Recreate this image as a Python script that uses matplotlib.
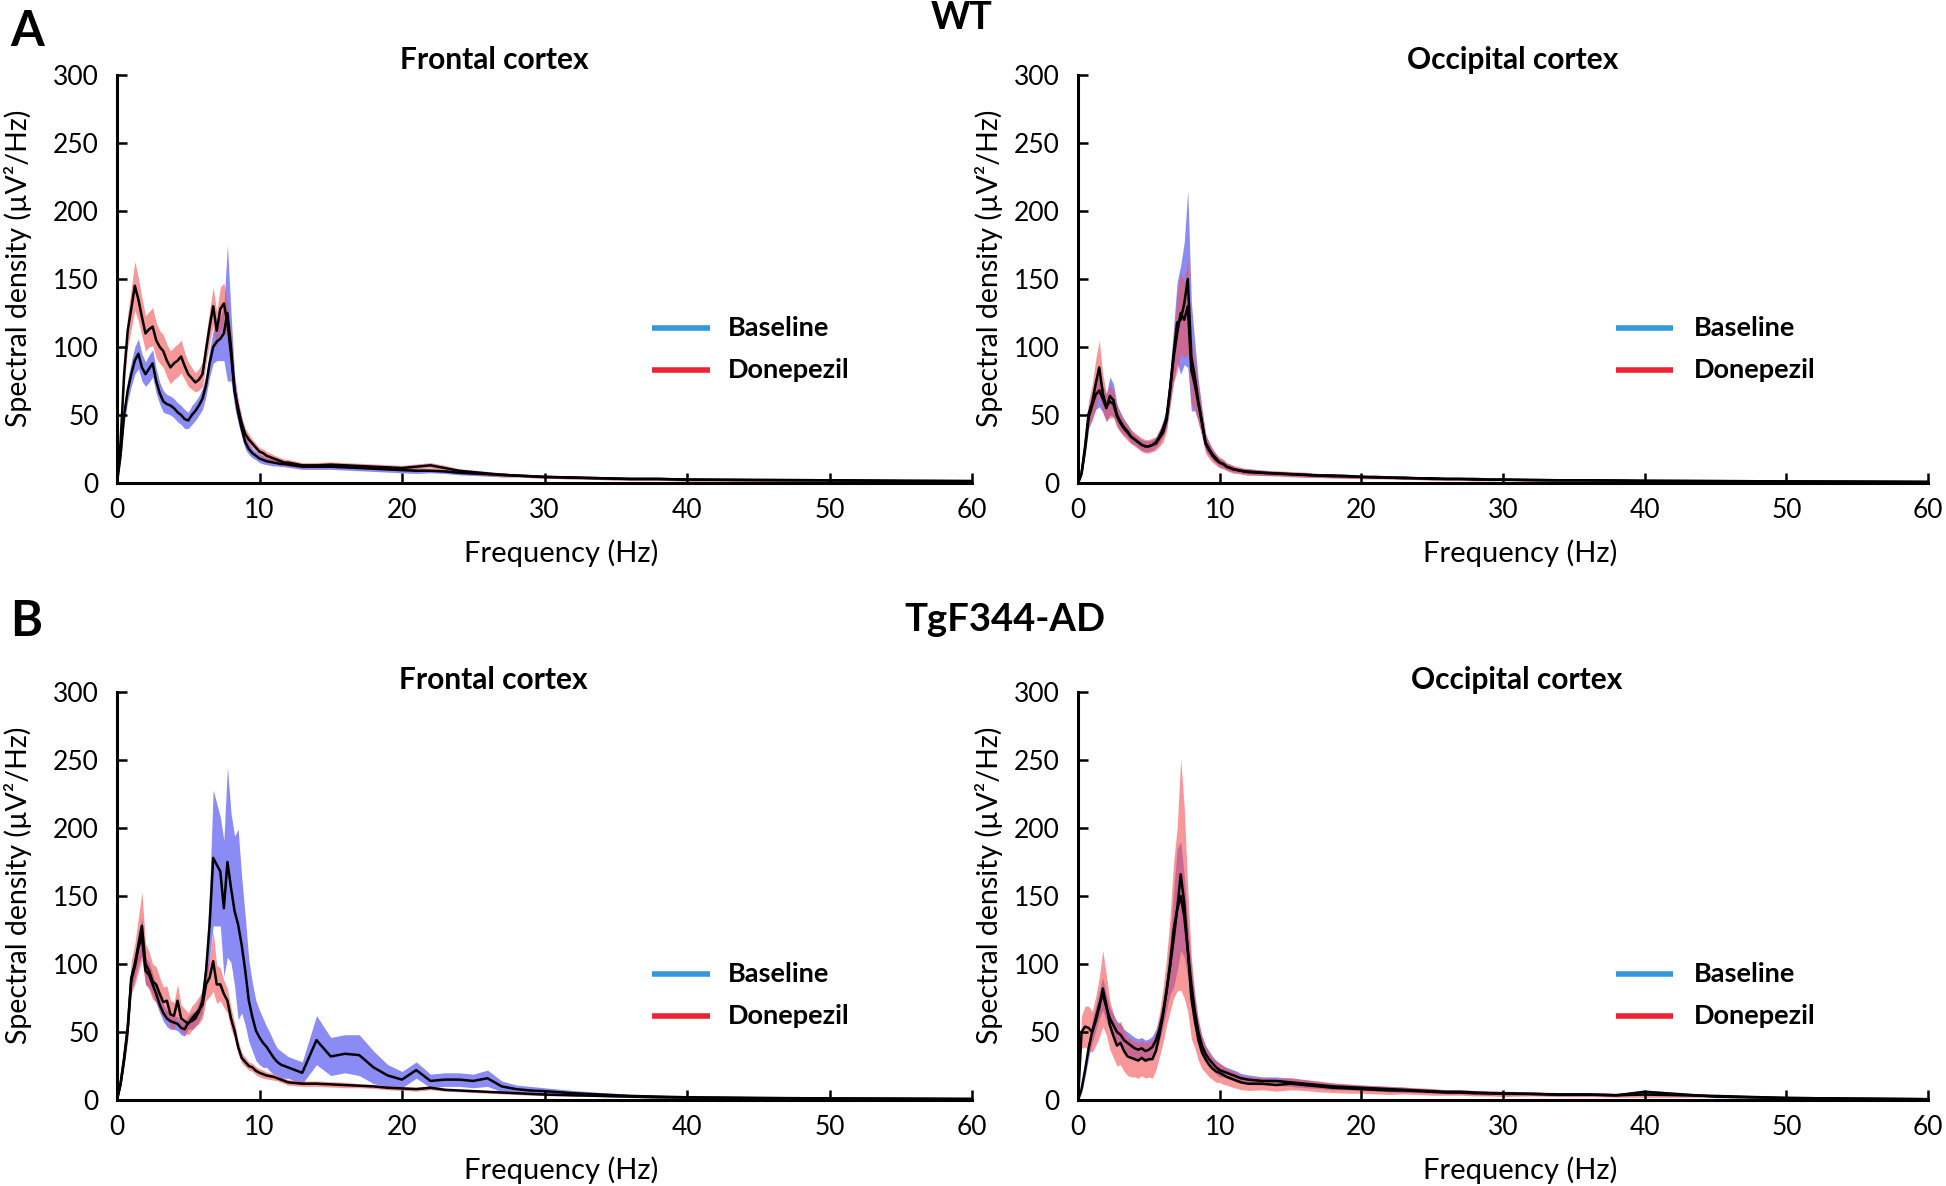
import numpy as np
import matplotlib
matplotlib.use("Agg")
import matplotlib.pyplot as plt

plt.rcParams['font.family'] = ['Lato', 'DejaVu Sans']

# frequency grid (Hz): 0-12 step 0.25, then 13..30, 32..40 step 2, 45..60 step 5
freq = [0, .25, .5, .75, 1, 1.25, 1.5, 1.75,
        2, 2.25, 2.5, 2.75, 3, 3.25, 3.5, 3.75,
        4, 4.25, 4.5, 4.75, 5, 5.25, 5.5, 5.75,
        6, 6.25, 6.5, 6.75, 7, 7.25, 7.5, 7.75,
        8, 8.25, 8.5, 8.75, 9, 9.25, 9.5, 9.75,
        10, 10.25, 10.5, 10.75, 11, 11.25, 11.5, 11.75,
        12, 13, 14, 15, 16, 17, 18, 19,
        20, 21, 22, 23, 24, 25, 26, 27,
        28, 29, 30, 32, 34, 36, 38, 40,
        45, 50, 55, 60]

# ---- WT, frontal cortex ----
wt_fr_base = [0, 20, 50, 68, 80, 90, 95, 85,
              80, 84, 88, 75, 66, 60, 58, 57,
              55, 52, 50, 47, 46, 50, 53, 57,
              62, 72, 88, 100, 104, 106, 110, 125,
              100, 68, 52, 40, 30, 25, 22, 20,
              18, 17, 16, 15.5, 15, 14.5, 14, 14,
              13.5, 12, 12, 12, 11.5, 11, 10.5, 10,
              9.5, 9, 9, 8.5, 7.5, 7, 6.5, 6,
              5.5, 5, 4.5, 4, 3.5, 3, 3, 2.5,
              2.2, 2, 1.6, 1.4]
wt_fr_base_err = [0, 3, 6, 8, 9, 10, 11, 10,
                  9, 10, 10, 9, 8, 8, 7, 7,
                  7, 7, 7, 7, 6, 7, 7, 7,
                  8, 8, 10, 12, 14, 16, 20, 50,
                  25, 12, 8, 6, 5, 4, 3.5, 3,
                  3, 3, 2.5, 2.5, 2.5, 2, 2, 2,
                  2, 2, 2, 2, 2, 2, 2, 2,
                  2, 2, 1.5, 1.5, 1.5, 1.5, 1.5, 1.5,
                  1, 1, 1, 1, 1, 1, 1, 1,
                  0.8, 0.8, 0.6, 0.6]
wt_fr_done = [0, 30, 80, 112, 128, 145, 135, 122,
              110, 113, 115, 105, 100, 97, 90, 85,
              88, 90, 93, 86, 80, 77, 74, 76,
              80, 98, 115, 130, 112, 128, 132, 118,
              95, 68, 55, 44, 36, 32, 29, 26,
              23, 22, 20, 19, 18, 17, 16, 15,
              15, 13, 13, 13.5, 13, 12.5, 12, 11.5,
              11, 12, 13, 11, 9, 8, 7, 6,
              5.5, 5, 4.5, 4, 3.5, 3, 3, 2.5,
              2.2, 2, 1.6, 1.4]
wt_fr_done_err = [0, 4, 8, 12, 15, 18, 16, 14,
                  13, 13, 14, 13, 12, 12, 12, 12,
                  12, 12, 12, 10, 9, 8, 7, 8,
                  9, 10, 12, 14, 14, 16, 15, 14,
                  12, 8, 6, 5, 4, 4, 3, 3,
                  3, 3, 3, 3, 2.5, 2.5, 2.5, 2.5,
                  2.5, 2, 2, 2, 2, 2, 2, 2,
                  2, 2, 2, 2, 1.5, 1.5, 1.5, 1.5,
                  1, 1, 1, 1, 1, 1, 1, 1,
                  0.8, 0.8, 0.6, 0.6]

# ---- WT, occipital cortex ----
wt_oc_base = [0, 7, 25, 48, 57, 65, 68, 62,
              55, 64, 61, 50, 45, 41, 38, 34,
              32, 30, 28, 27, 27, 28, 30, 34,
              40, 48, 70, 95, 118, 120, 132, 150,
              93, 78, 60, 45, 30, 25, 21, 18,
              15, 14, 12, 11, 10, 9.5, 9, 8.5,
              8.5, 7.5, 7, 6.5, 6, 5.5, 5.5, 5,
              4.5, 4.5, 4, 4, 3.5, 3.5, 3, 3,
              3, 2.5, 2.5, 2.2, 2, 2, 1.8, 1.6,
              1.4, 1.2, 1, 0.8]
wt_oc_base_err = [0, 2, 5, 8, 10, 11, 12, 10,
                  10, 14, 12, 8, 7, 6, 5, 5,
                  4, 4, 4, 4, 4, 4, 4, 5,
                  6, 8, 12, 20, 30, 40, 45, 65,
                  40, 25, 15, 10, 6, 5, 4, 3.5,
                  3, 3, 2.5, 2.5, 2, 2, 2, 2,
                  2, 2, 1.5, 1.5, 1.5, 1.5, 1.5, 1.5,
                  1, 1, 1, 1, 1, 1, 1, 1,
                  1, 0.8, 0.8, 0.8, 0.6, 0.6, 0.6, 0.6,
                  0.5, 0.5, 0.4, 0.4]
wt_oc_done = [0, 7, 27, 51, 59, 73, 85, 66,
              56, 60, 58, 49, 44, 40, 37, 34,
              32, 30, 28, 27, 27, 28, 29, 33,
              37, 46, 68, 92, 110, 125, 120, 130,
              83, 72, 58, 44, 29, 24, 20, 17,
              15, 14, 12, 11, 10, 9.5, 9, 8.5,
              8, 7.5, 7, 6.5, 6, 5.5, 5, 5,
              4.5, 4, 4, 3.5, 3.5, 3, 3, 3,
              2.5, 2.5, 2.5, 2.2, 2, 2, 1.8, 1.6,
              1.4, 1.2, 1, 0.8]
wt_oc_done_err = [0, 2, 6, 10, 13, 18, 20, 14,
                  10, 12, 10, 8, 7, 6, 6, 5,
                  5, 5, 5, 5, 5, 5, 5, 6,
                  7, 8, 12, 18, 28, 30, 28, 35,
                  25, 18, 14, 10, 7, 6, 5, 4,
                  4, 3.5, 3, 3, 3, 2.5, 2.5, 2.5,
                  2.5, 2, 2, 2, 2, 1.5, 1.5, 1.5,
                  1.5, 1, 1, 1, 1, 1, 1, 1,
                  1, 0.8, 0.8, 0.8, 0.6, 0.6, 0.6, 0.6,
                  0.5, 0.5, 0.4, 0.4]

# ---- TgF344-AD, frontal cortex ----
tg_fr_base = [0, 12, 30, 52, 88, 98, 112, 120,
              95, 92, 85, 78, 70, 64, 60, 58,
              57, 56, 53, 52, 57, 58, 60, 65,
              73, 95, 129, 178, 173, 168, 141, 175,
              156, 139, 129, 114, 95, 73, 61, 51,
              46, 42, 39, 35, 31, 28, 26, 25,
              24, 20, 44, 32, 34, 33, 24, 18,
              15, 22, 14, 15, 15, 14, 16, 10,
              8, 7, 6.5, 5, 4, 3, 2.5, 2,
              1.5, 1.2, 1, 0.8]
tg_fr_base_err = [0, 3, 5, 7, 8, 9, 12, 14,
                  10, 9, 8, 7, 6, 6, 6, 6,
                  5, 5, 5, 5, 5, 6, 6, 7,
                  9, 12, 25, 50, 45, 40, 50, 70,
                  55, 55, 70, 50, 40, 30, 25, 22,
                  20, 18, 15, 14, 12, 10, 10, 9,
                  8, 8, 18, 14, 14, 15, 12, 8,
                  6, 6, 5, 5, 5, 5, 6, 4,
                  3, 3, 2.5, 2, 1.5, 1.2, 1, 1,
                  0.8, 0.6, 0.5, 0.4]
tg_fr_done = [0, 12, 31, 53, 90, 100, 114, 128,
              100, 95, 87, 85, 78, 72, 73, 63,
              62, 73, 60, 58, 56, 60, 63, 66,
              70, 85, 90, 102, 85, 85, 78, 73,
              60, 51, 39, 31, 28, 25, 24, 21.5,
              20, 19, 18, 17.5, 17, 16, 15, 14,
              13, 12, 12, 11.5, 11, 10.5, 10, 9,
              8.5, 8, 9, 7.5, 7, 6.5, 6, 5.5,
              5, 4.5, 4, 3.5, 3, 2.5, 2, 1.8,
              1.4, 1.1, 0.9, 0.7]
tg_fr_done_err = [0, 3, 6, 9, 12, 15, 20, 25,
                  15, 14, 13, 13, 12, 11, 11, 10,
                  10, 12, 10, 9, 8, 9, 9, 10,
                  10, 12, 14, 22, 14, 12, 10, 9,
                  8, 6, 5, 4, 3.5, 3, 3, 3,
                  3, 3, 2.5, 2.5, 2.5, 2, 2, 2,
                  2, 2, 2, 2, 2, 1.5, 1.5, 1.5,
                  1.5, 1.5, 1.5, 1, 1, 1, 1, 1,
                  1, 1, 0.8, 0.8, 0.6, 0.6, 0.5, 0.5,
                  0.4, 0.4, 0.3, 0.3]

# ---- TgF344-AD, occipital cortex ----
tg_oc_base = [0, 8, 22, 38, 50, 60, 70, 78,
              68, 60, 55, 50, 48, 44, 42, 40,
              38, 37, 38, 36, 37, 39, 44, 52,
              64, 80, 98, 118, 140, 150, 135, 110,
              85, 65, 50, 40, 34, 30, 27, 24,
              22, 21, 20, 19, 18, 17, 16, 15.5,
              15, 14, 14, 13, 12, 11, 10, 9.5,
              9, 8.5, 8, 7.5, 7, 6.5, 6, 6,
              5.5, 5, 5, 4.5, 4, 4, 3.5, 6,
              2.5, 1.5, 1, 0.6]
tg_oc_base_err = [0, 3, 5, 7, 8, 9, 10, 12,
                  10, 8, 8, 8, 8, 8, 8, 8,
                  8, 8, 8, 8, 8, 8, 8, 9,
                  10, 14, 20, 35, 45, 40, 30, 20,
                  14, 10, 8, 7, 6, 6, 5, 5,
                  5, 4, 4, 4, 4, 4, 3.5, 3.5,
                  3.5, 3, 3, 3, 3, 2.5, 2.5, 2,
                  2, 2, 2, 2, 1.5, 1.5, 1.5, 1.5,
                  1.5, 1.5, 1, 1, 1, 1, 1, 1.5,
                  0.8, 0.6, 0.4, 0.3]
tg_oc_done = [0, 50, 54, 53, 50, 58, 68, 82,
              70, 55, 47, 40, 42, 36, 32, 31,
              30, 29, 31, 29, 30, 30, 36, 48,
              62, 80, 100, 125, 140, 166, 145, 110,
              75, 58, 44, 35, 30, 26, 23, 21,
              20, 18.5, 17, 16, 15, 14, 13, 12.5,
              12, 12, 11, 12, 11, 10, 9, 8.5,
              8, 7.5, 7, 7, 6.5, 6, 5.5, 5.5,
              5, 5, 4.5, 4.5, 4, 4, 3.5, 4,
              3, 1.5, 1, 0.6]
tg_oc_done_err = [0, 12, 15, 16, 15, 18, 22, 28,
                  22, 18, 16, 15, 16, 15, 14, 14,
                  13, 13, 13, 13, 13, 14, 14, 16,
                  20, 25, 35, 50, 60, 85, 70, 45,
                  30, 20, 15, 12, 10, 9, 8, 8,
                  7, 7, 6, 6, 6, 5.5, 5.5, 5,
                  5, 4.5, 4.5, 4.5, 4, 4, 3.5, 3.5,
                  3, 3, 3, 2.5, 2.5, 2.5, 2, 2,
                  2, 2, 2, 1.5, 1.5, 1.5, 1.5, 2,
                  1, 0.8, 0.5, 0.4]

W, H = 1946, 1186
fig = plt.figure(figsize=(W / 100, H / 100), dpi=100)

def px_axes(x0, x1, ytop, ybot):
    return fig.add_axes([x0 / W, 1 - ybot / H, (x1 - x0) / W, (ybot - ytop) / H])

panels = [
    (px_axes(117, 972, 75, 483), wt_fr_base, wt_fr_base_err, wt_fr_done, wt_fr_done_err,
     "Frontal cortex", 494, 60, True),
    (px_axes(1078, 1928, 75, 483), wt_oc_base, wt_oc_base_err, wt_oc_done, wt_oc_done_err,
     "Occipital cortex", 1513, 60, False),
    (px_axes(117, 972, 692, 1100), tg_fr_base, tg_fr_base_err, tg_fr_done, tg_fr_done_err,
     "Frontal cortex", 493, 680, True),
    (px_axes(1078, 1928, 692, 1100), tg_oc_base, tg_oc_base_err, tg_oc_done, tg_oc_done_err,
     "Occipital cortex", 1517, 680, False),
]

f = np.array(freq)
for ax, mb, eb, md, ed, title, tx, ty, is_left in panels:
    mb, eb, md, ed = map(np.array, (mb, eb, md, ed))
    ax.fill_between(f, np.clip(mb - eb, 0, None), mb + eb, color='#6464f2', alpha=0.75, lw=0)
    ax.plot(f, mb, color='black', lw=1.8)
    ax.fill_between(f, np.clip(md - ed, 0, None), md + ed, color='#f25252', alpha=0.6, lw=0)
    ax.plot(f, md, color='black', lw=1.8)

    ax.set_xlim(0, 60)
    ax.set_ylim(0, 300)
    ax.set_xticks(range(0, 61, 10))
    ax.set_yticks(range(0, 301, 50))
    for s in ['top', 'right']:
        ax.spines[s].set_visible(False)
    for s in ['left', 'bottom']:
        ax.spines[s].set_linewidth(2.2)
    ax.tick_params(direction='in', length=7, width=1.8, labelsize=19)
    ax.tick_params(axis='y', pad=13)
    ax.tick_params(axis='x', pad=11)
    ax.set_xlabel("Frequency (Hz)", fontsize=21)
    ax.set_ylabel("Spectral density (µV²/Hz)", fontsize=20.5)
    ax.xaxis.set_label_coords(0.52, -0.137)
    ax.yaxis.set_label_coords(-0.099 if is_left else -0.088, 0.525)
    fig.text(tx / W, 1 - ty / H, title, fontsize=21.5, fontweight='bold',
             ha='center', va='center')

    # legend
    legy = [0.380, 0.277] if ty < 300 else [0.309, 0.206]
    x0, x1, xt = (0.626, 0.694, 0.715) if is_left else (0.633, 0.700, 0.724)
    for yy, col, lab in zip(legy, ['#3399dd', '#ee2233'], ['Baseline', 'Donepezil']):
        ax.plot([x0, x1], [yy, yy], color=col, lw=4, transform=ax.transAxes,
                solid_capstyle='butt')
        ax.text(xt, yy, lab, transform=ax.transAxes, fontsize=19.5, fontweight='bold',
                va='center', ha='left')

fig.text(10 / W, 1 - 32 / H, "A", fontsize=35, fontweight='bold', va='center', ha='left')
fig.text(10 / W, 1 - 622 / H, "B", fontsize=35, fontweight='bold', va='center', ha='left')
fig.text(962 / W, 1 - 18 / H, "WT", fontsize=27, fontweight='bold', va='center', ha='center')
fig.text(1005 / W, 1 - 620 / H, "TgF344-AD", fontsize=27.5, fontweight='bold',
         va='center', ha='center')

fig.savefig("out.png", dpi=100, facecolor='white')
